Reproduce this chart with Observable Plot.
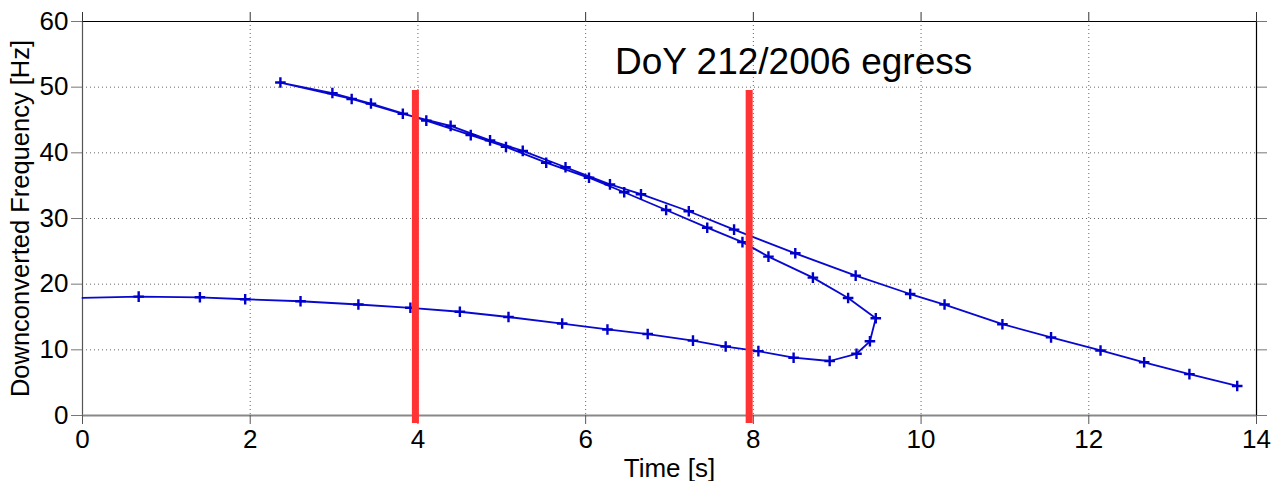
<!DOCTYPE html>
<html><head><meta charset="utf-8">
<script src="https://cdn.jsdelivr.net/npm/d3@7"></script>
<script src="https://cdn.jsdelivr.net/npm/@observablehq/plot@0.6"></script>
<style>body{margin:0;background:#fff} svg{display:block}</style>
</head><body><div id="chart"></div>
<script>
// Time [s] and downconverted frequency [Hz] along the single traced path
const time = [0, 0.67, 1.40, 1.94, 2.60, 3.29, 3.91, 4.50, 5.08, 5.72, 6.26, 6.74, 7.28, 7.67, 8.06, 8.48, 8.91, 9.23, 9.39, 9.46,
  9.13, 8.71, 8.18, 7.87, 7.45, 6.96, 6.46, 6.04, 5.53, 5.05, 4.63, 4.10, 3.44, 2.98, 2.36,
  3.21, 3.82, 4.39, 4.86, 5.25, 5.76, 6.29, 6.66, 7.23, 7.77, 8.50, 9.22, 9.87, 10.28, 10.97, 11.55, 12.14, 12.66, 13.20, 13.77];
const freq = [17.9, 18.1, 18.0, 17.7, 17.4, 16.9, 16.4, 15.8, 15.0, 14.0, 13.1, 12.4, 11.4, 10.5, 9.8, 8.8, 8.3, 9.4, 11.3, 14.8,
  17.9, 21.0, 24.2, 26.4, 28.6, 31.3, 34.0, 36.2, 38.5, 40.9, 42.7, 44.9, 47.5, 49.1, 50.7,
  48.2, 45.95, 44.1, 41.9, 40.3, 37.8, 35.2, 33.7, 31.1, 28.3, 24.7, 21.3, 18.5, 16.9, 13.9, 11.9, 9.9, 8.1, 6.3, 4.5];
const xTicks = [0, 2, 4, 6, 8, 10, 12, 14];
const yTicks = [0, 10, 20, 30, 40, 50, 60];
const markerTimes = [3.97, 7.95];
const markerTop = 49.5, markerBottom = -1.2;
const annotation = ["DoY 212/2006 egress"];
const annotationX = 6.35, annotationY = 53.8;

const data = time.map((t, i) => ({t, f: freq[i]}));

const chart = Plot.plot({
  width: 1278, height: 481,
  marginLeft: 82, marginRight: 22, marginTop: 21, marginBottom: 66,
  style: {fontFamily: "'Liberation Sans', Arial, sans-serif", fontSize: "25px", background: "#fff", color: "#000", overflow: "visible"},
  x: {domain: [0, 14]},
  y: {domain: [0, 60]},
  marks: [
    Plot.gridX(xTicks.slice(1, -1), {stroke: "#666", strokeOpacity: 1, strokeDasharray: "1,3"}),
    Plot.gridY(yTicks.slice(1, -1), {stroke: "#666", strokeOpacity: 1, strokeDasharray: "1,3"}),
    Plot.ruleY([60], {stroke: "#000", strokeWidth: 1.2}),
    Plot.ruleX([14], {stroke: "#000", strokeWidth: 1.2}),
    Plot.ruleX([0], {stroke: "#555", strokeWidth: 1.2}),
    Plot.ruleY([0], {stroke: "#888", strokeWidth: 2.2}),
    Plot.axisX({anchor: "bottom", ticks: xTicks, tickSize: 9, tickPadding: 5, stroke: "#555", fontSize: 26,
      label: null}),
    Plot.axisX({anchor: "bottom", ticks: [], label: "Time [s]", labelAnchor: "center", labelArrow: "none", labelOffset: 61, fontSize: 26}),
    Plot.axisY({anchor: "left", ticks: yTicks, tickSize: 11, tickPadding: 3, stroke: "#777", fontSize: 26,
      label: null}),
    Plot.axisY({anchor: "left", ticks: [], label: "Downconverted Frequency [Hz]", labelAnchor: "center", labelArrow: "none", labelOffset: 72, fontSize: 25.5}),
    Plot.axisX({anchor: "top", ticks: xTicks, tickSize: 10, tickFormat: () => "", label: null, stroke: "#333"}),
    Plot.axisY({anchor: "right", ticks: yTicks, tickSize: 10, tickFormat: () => "", label: null, stroke: "#777"}),
    Plot.line(data, {x: "t", y: "f", stroke: "#0808d0", strokeWidth: 1.8}),
    Plot.dot(data, {filter: d => d.t > 0, x: "t", y: "f", symbol: "plus", r: 3.5, stroke: "#0000cc", strokeWidth: 2.4}),
    Plot.ruleX(markerTimes, {x: d => d, y1: markerBottom, y2: markerTop, stroke: "#ff3333", strokeWidth: 7}),
    Plot.text(annotation, {x: annotationX, y: annotationY, text: d => d, textAnchor: "start", fontSize: 37, fill: "#000"})
  ]
});
document.getElementById("chart").appendChild(chart);
</script>
</body></html>
